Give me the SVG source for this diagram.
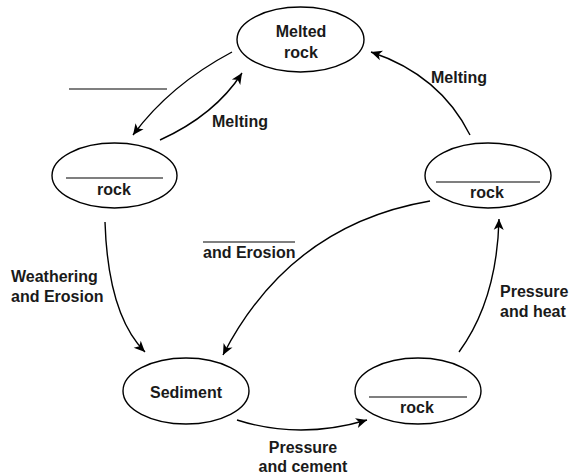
<svg xmlns="http://www.w3.org/2000/svg" width="569" height="476" viewBox="0 0 569 476">
<style>
  .n ellipse { fill: #fff; stroke: #000; stroke-width: 1.4; }
  .blank { stroke: #000; stroke-width: 1.2; }
  text { font-family: "Liberation Sans", Arial, sans-serif; font-weight: bold; font-size: 16px; fill: #1a1a1a; }
  .c { text-anchor: middle; }
  #connectors path { fill: none; stroke: #000; stroke-width: 1.4; marker-end: url(#ah); }
</style>
<defs>
  <marker id="ah" markerUnits="userSpaceOnUse" markerWidth="14" markerHeight="12" viewBox="-12 -6 14 12" refX="0" refY="0" orient="auto">
    <path d="M0,0 L-11,-5 L-8,0 L-11,5 Z" fill="#000"/>
  </marker>
</defs>
<rect width="569" height="476" fill="#fff"/>
<g id="connectors">
  <path d="M232,52 Q170,85 133,135"/>
  <path d="M160,140 Q215,115 242,73"/>
  <path d="M470,135 Q440,75 371,52"/>
  <path d="M430,201 Q290,225 223,355"/>
  <path d="M105,222 Q108,315 145,352"/>
  <path d="M237,420 Q300,440 367,420"/>
  <path d="M459,352 Q497,300 499,219"/>
</g>
<g id="melted" class="n">
  <ellipse cx="300.5" cy="39.5" rx="63.5" ry="32.5"/>
  <text class="c" x="301" y="37">Melted</text>
  <text class="c" x="301" y="58">rock</text>
</g>
<g id="left-rock" class="n">
  <ellipse cx="114.5" cy="175.5" rx="62.5" ry="32.5"/>
  <line class="blank" x1="66" y1="178" x2="163" y2="178"/>
  <text class="c" x="114" y="195">rock</text>
</g>
<g id="right-rock" class="n">
  <ellipse cx="488" cy="175.5" rx="63" ry="32.5"/>
  <line class="blank" x1="436" y1="182" x2="540" y2="182"/>
  <text class="c" x="487" y="198">rock</text>
</g>
<g id="sediment" class="n">
  <ellipse cx="186" cy="391" rx="63" ry="33"/>
  <text class="c" x="186" y="398">Sediment</text>
</g>
<g id="bottom-rock" class="n">
  <ellipse cx="418" cy="391" rx="63" ry="33"/>
  <line class="blank" x1="369" y1="397" x2="467" y2="397"/>
  <text class="c" x="417" y="413">rock</text>
</g>
<g id="labels">
  <line class="blank" x1="69" y1="89" x2="167" y2="89"/>
  <text class="c" x="240" y="127">Melting</text>
  <text class="c" x="459" y="83">Melting</text>
  <line class="blank" x1="203" y1="242" x2="295" y2="242"/>
  <text x="203" y="258">and Erosion</text>
  <text x="11" y="282">Weathering</text>
  <text x="11" y="302">and Erosion</text>
  <text x="500" y="297">Pressure</text>
  <text x="500" y="317">and heat</text>
  <text class="c" x="303" y="453">Pressure</text>
  <text class="c" x="303" y="472">and cement</text>
</g>
</svg>
